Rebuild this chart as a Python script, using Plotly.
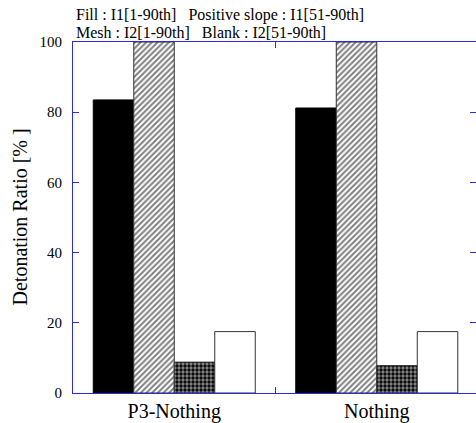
import plotly.graph_objects as go

categories = ["P3-Nothing", "Nothing"]
fill_i1_all = [83.5, 81.2]
slope_i1_51_90 = [100, 100]
mesh_i2_all = [8.8, 7.8]
blank_i2_51_90 = [17.5, 17.5]
y_ticks = [0, 20, 40, 60, 80, 100]

FONT = "Liberation Serif"
AX = "#2a2ae0"

fig = go.Figure()
fig.add_bar(x=categories, y=fill_i1_all, name="Fill",
            marker=dict(color="black", line=dict(color="black", width=1)))
fig.add_bar(x=categories, y=slope_i1_51_90, name="Positive slope",
            marker=dict(color="white", line=dict(color="#333", width=1),
                        pattern=dict(shape="/", size=4, solidity=0.5,
                                     fgcolor="black", bgcolor="white")))
fig.add_bar(x=categories, y=mesh_i2_all, name="Mesh",
            marker=dict(color="white", line=dict(color="#333", width=1),
                        pattern=dict(shape=".", size=4, solidity=0.55,
                                     fgcolor="white", bgcolor="black")))
fig.add_bar(x=categories, y=blank_i2_51_90, name="Blank",
            marker=dict(color="white", line=dict(color="#333", width=1)))

fig.update_layout(
    width=476, height=423, autosize=False,
    margin=dict(l=73, r=0, t=42, b=30),
    barmode="group", bargap=0.2, bargroupgap=0,
    showlegend=False,
    plot_bgcolor="white", paper_bgcolor="white",
    font=dict(family=FONT, color="black"),
)
fig.update_xaxes(
    type="category", range=[-0.5, 1.49],
    showline=True, linecolor=AX, linewidth=1, mirror="ticks",
    ticks="inside", tickson="boundaries", ticklen=6, tickcolor=AX,
    showgrid=False, zeroline=False,
    tickfont=dict(family=FONT, size=20, color="black"),
)
fig.update_yaxes(
    range=[0, 100], tickvals=y_ticks,
    showline=True, linecolor=AX, linewidth=1, mirror="ticks",
    ticks="inside", ticklen=6, tickcolor=AX,
    showgrid=False, zeroline=False,
    tickfont=dict(family=FONT, size=15, color="black"),
    ticklabelstandoff=7,
)
fig.add_annotation(text="Fill : I1[1-90th]&nbsp;&nbsp;&nbsp;Positive slope : I1[51-90th]",
                   xref="paper", yref="paper", x=0, y=1, xanchor="left", yanchor="bottom",
                   xshift=1, yshift=16, showarrow=False,
                   font=dict(family=FONT, size=16, color="black"))
fig.add_annotation(text="Mesh : I2[1-90th]&nbsp;&nbsp;&nbsp;Blank : I2[51-90th]",
                   xref="paper", yref="paper", x=0, y=1, xanchor="left", yanchor="bottom",
                   xshift=1, yshift=-1, showarrow=False,
                   font=dict(family=FONT, size=16, color="black"))
fig.add_annotation(text="Detonation Ratio [% ]", textangle=-90,
                   xref="paper", yref="paper", x=0, y=0.5, xanchor="center", yanchor="middle",
                   xshift=-54, showarrow=False,
                   font=dict(family=FONT, size=20, color="black"))

fig.write_html(
    "out.html",
    config={"displayModeBar": False},
    post_script="document.body.style.margin='0';document.body.style.overflow='hidden';",
)
